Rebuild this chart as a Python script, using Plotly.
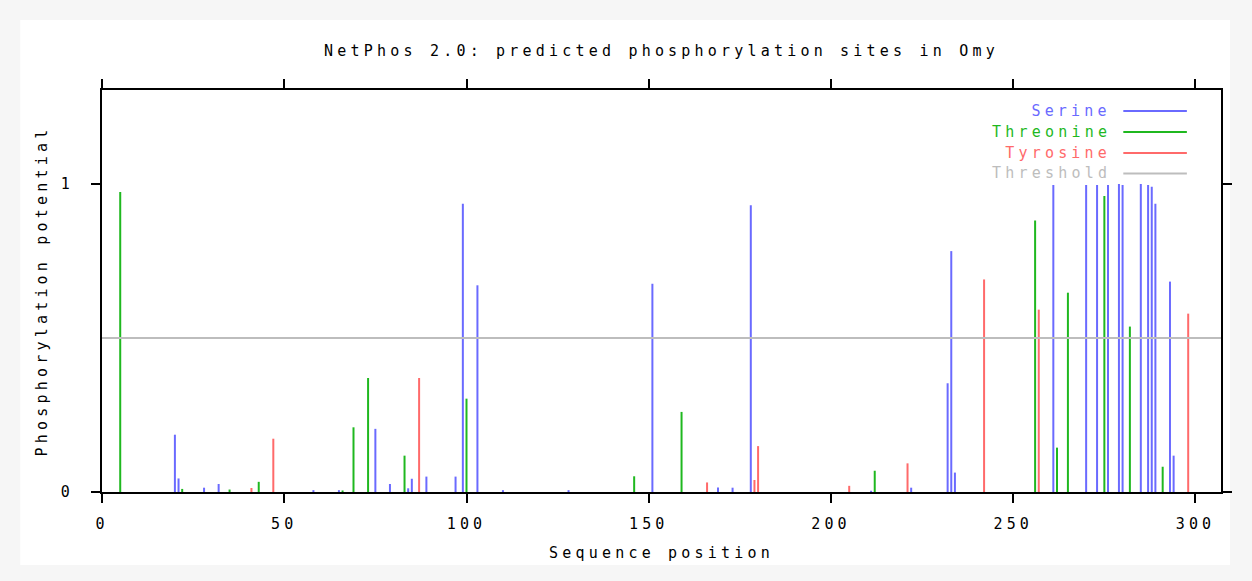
import plotly.graph_objects as go

# NetPhos 2.0 output, sequence "Omy"
seq_length = 307
threshold = 0.5

serine_pos = [20, 21, 28, 32, 58, 65, 75, 79, 84, 85, 89, 97, 99, 103, 110, 128,
              151, 169, 173, 178, 211, 222, 232, 233, 234, 261, 270, 273, 276,
              279, 280, 285, 287, 288, 289, 293, 294]
serine_score = [0.186, 0.044, 0.014, 0.026, 0.006, 0.006, 0.205, 0.026, 0.012, 0.043,
                0.050, 0.050, 0.936, 0.671, 0.006, 0.006, 0.676, 0.015, 0.014, 0.931,
                0.004, 0.014, 0.353, 0.782, 0.063, 0.997, 0.997, 0.997, 0.997,
                1.000, 0.997, 1.000, 0.997, 0.991, 0.936, 0.683, 0.118]

threonine_pos = [5, 22, 35, 43, 66, 69, 73, 83, 100, 146, 159, 212, 256, 262, 265,
                 275, 282, 291]
threonine_score = [0.974, 0.010, 0.008, 0.033, 0.005, 0.210, 0.370, 0.118, 0.303,
                   0.051, 0.260, 0.069, 0.881, 0.144, 0.647, 0.961, 0.537, 0.082]

tyrosine_pos = [41, 47, 87, 166, 179, 180, 205, 221, 242, 257, 298]
tyrosine_score = [0.013, 0.173, 0.370, 0.031, 0.039, 0.149, 0.020, 0.093, 0.690,
                  0.592, 0.579]

series = [
    ("Serine", serine_pos, serine_score, "#6a6aff"),
    ("Threonine", threonine_pos, threonine_score, "#1fb81f"),
    ("Tyrosine", tyrosine_pos, tyrosine_score, "#ff6a6a"),
]
threshold_color = "#bdbdbd"
font = "DejaVu Sans Mono"
fsize = 15
spacing = 4.2  # extra letter spacing, the gnuplot bitmap font is wide


def impulses(pos, score):
    xs, ys = [], []
    for p, s in zip(pos, score):
        xs += [p, p, None]
        ys += [0, s, None]
    return xs, ys


fig = go.Figure()
for name, pos, score, color in series:
    xs, ys = impulses(pos, score)
    fig.add_trace(go.Scatter(x=xs, y=ys, mode="lines", name=name,
                             line=dict(color=color, width=2)))

fig.add_trace(go.Scatter(x=[0, seq_length], y=[threshold, threshold], mode="lines",
                         name="Threshold", line=dict(color=threshold_color, width=2)))

# gnuplot style legend: right-aligned text followed by a line sample
legend_rows = [(s[0], s[3]) for s in series] + [("Threshold", threshold_color)]
row_y = [0.9475, 0.8955, 0.8435, 0.7925]
shapes = [dict(type="rect", xref="paper", yref="paper", x0=-0.0731, x1=1.008,
               y0=-0.1816, y1=1.174, fillcolor="white", line=dict(width=0),
               layer="below")]
annotations = []
for (label, color), yy in zip(legend_rows, row_y):
    annotations.append(dict(text=label, x=0.8993, y=yy, xref="paper", yref="paper",
                            xanchor="right", yanchor="middle", showarrow=False,
                            xshift=-(len(label) * spacing / 2 - spacing),
                            font=dict(family=font, size=fsize, color=color)))
    shapes.append(dict(type="line", xref="paper", yref="paper", x0=0.9127, x1=0.9695,
                       y0=yy, y1=yy, line=dict(color=color, width=2)))

fig.update_layout(
    width=1236, height=565,
    margin=dict(l=94, r=20, t=82, b=81),
    paper_bgcolor="#f6f6f6",
    plot_bgcolor="white",
    showlegend=False,
    font=dict(family=font, size=fsize, color="black"),
    title=dict(text="NetPhos 2.0: predicted phosphorylation sites in Omy",
               x=0.5, xref="paper", xanchor="center",
               y=0.925, yref="container", yanchor="middle",
               font=dict(family=font, size=fsize, color="black")),
    shapes=shapes,
    annotations=annotations,
)
fig.update_xaxes(range=[0, seq_length], tickvals=[0, 50, 100, 150, 200, 250, 300],
                 showgrid=False, zeroline=False, showline=True, linecolor="black",
                 linewidth=2, mirror="ticks", ticks="outside", ticklen=9, tickwidth=1.5,
                 tickcolor="black", ticklabelstandoff=8,
                 title=dict(text="Sequence position", standoff=15,
                            font=dict(family=font, size=fsize)))
fig.update_yaxes(range=[0, 1.305], tickvals=[0, 1], showgrid=False, zeroline=False,
                 showline=True, linecolor="black", linewidth=2, mirror="ticks",
                 ticks="outside", ticklen=9, tickwidth=1.5, tickcolor="black",
                 ticklabelstandoff=14,
                 title=dict(text="Phosphorylation potential", standoff=14,
                            font=dict(family=font, size=fsize)))

post = """
var gd = document.getElementById('{plot_id}');
function spread() {
  gd.querySelectorAll('.gtitle, .xtitle, .ytitle, .xtick text, .ytick text, .annotation-text')
    .forEach(function (t) { t.style.letterSpacing = '%spx'; });
}
spread();
gd.on('plotly_afterplot', spread);
document.body.style.background = '#f6f6f6';
""" % spacing

fig.write_html("out.html", post_script=post)
